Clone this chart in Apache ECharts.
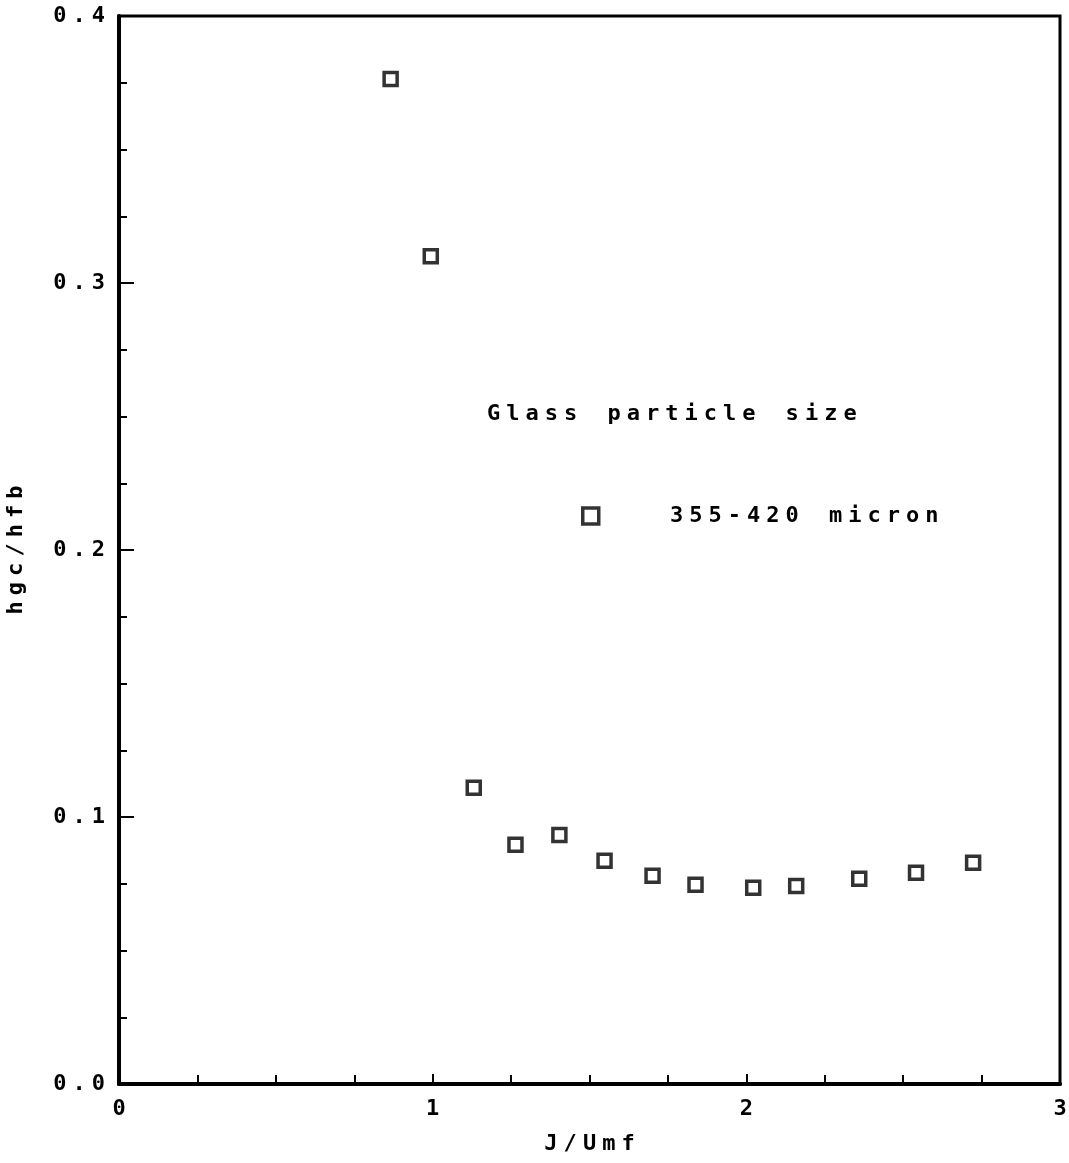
<!DOCTYPE html>
<html><head><meta charset="utf-8">
<script src="https://cdn.jsdelivr.net/npm/echarts@6/dist/echarts.min.js"></script>
<style>html,body{margin:0;padding:0;background:#fff}#c{width:1069px;height:1163px}</style>
</head><body><div id="c"></div>
<script>
const xValues = [0.866, 0.994, 1.131, 1.264, 1.404, 1.548, 1.701, 1.838, 2.022, 2.159, 2.360, 2.541, 2.723];
const yValues = [0.3764, 0.310, 0.111, 0.0896, 0.0933, 0.0836, 0.078, 0.0746, 0.0735, 0.0742, 0.0769, 0.0791, 0.0829];
const seriesName = '355-420 micron';
const legendTitle = 'Glass particle size';
const xAxisName = 'J/Umf';
const yAxisName = 'hgc/hfb';

const FONT = 'DejaVu Sans Mono';
function spaced(str) {
  return str.split('').map((ch, i) => (i ? '{s| }' : '') + (ch === ' ' ? '{s| }{s| }{s| }' : '{a|' + ch + '}')).join('');
}
const rich = {
  a: { fontFamily: FONT, fontWeight: 'bold', fontSize: 22, color: '#000' },
  s: { fontFamily: FONT, fontSize: 10, color: '#000' }
};

const chart = echarts.init(document.getElementById('c'));
chart.setOption({
  backgroundColor: '#fff',
  animation: false,
  grid: { left: 119, right: 9, top: 16, bottom: 79, show: true, borderColor: '#000', borderWidth: 3, backgroundColor: 'transparent', outerBoundsMode: 'none', containLabel: false },
  title: {
    text: spaced(legendTitle), left: 482, top: 398,
    textStyle: { rich: rich }
  },
  legend: {
    left: 576, top: 500, itemWidth: 16, itemHeight: 16, icon: 'rect',
    itemStyle: { color: '#fff', borderColor: '#000', borderWidth: 3.5 },
    formatter: n => '{s| }'.repeat(11) + spaced(n),
    textStyle: { rich: rich },
    data: [seriesName]
  },
  xAxis: {
    type: 'value', min: 0, max: 3, interval: 1,
    name: spaced(xAxisName), nameLocation: 'middle', nameGap: 49,
    nameTextStyle: { rich: rich },
    axisLine: { lineStyle: { color: '#000', width: 4 } },
    axisTick: { show: true, inside: true, length: 10, lineStyle: { color: '#000', width: 2 } },
    minorTick: { show: true, splitNumber: 4, length: 9, lineStyle: { color: '#000', width: 2 } },
    splitLine: { show: false },
    axisLabel: { margin: 14, formatter: v => spaced(String(v)), rich: rich }
  },
  yAxis: {
    type: 'value', min: 0, max: 0.4, interval: 0.1,
    name: spaced(yAxisName), nameLocation: 'middle', nameGap: 92, nameRotate: 90,
    nameTextStyle: { rich: rich },
    axisLine: { lineStyle: { color: '#000', width: 4 } },
    axisTick: { show: true, inside: true, length: 15, lineStyle: { color: '#000', width: 2 } },
    minorTick: { show: true, splitNumber: 4, length: 8, lineStyle: { color: '#000', width: 2 } },
    splitLine: { show: false },
    axisLabel: { margin: 14, formatter: v => spaced(v.toFixed(1)), rich: rich }
  },
  series: [{
    name: seriesName, type: 'scatter', symbol: 'rect', symbolSize: 13,
    itemStyle: { color: '#fff', borderColor: '#000', borderWidth: 3.5 },
    data: xValues.map((x, i) => [x, yValues[i]])
  }]
});
</script></body></html>
